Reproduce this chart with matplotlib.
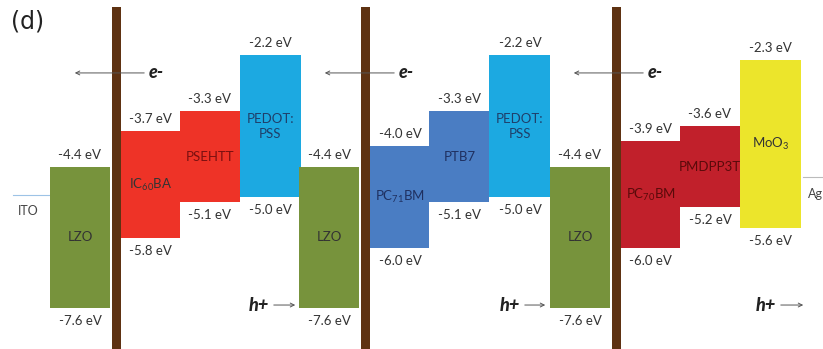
import numpy as np
import matplotlib
matplotlib.use("Agg")
import matplotlib.pyplot as plt

plt.rcParams['font.family'] = ['Lato', 'DejaVu Sans']
plt.rcParams['mathtext.fontset'] = 'custom'
plt.rcParams['mathtext.rm'] = 'Lato'
plt.rcParams['mathtext.it'] = 'Lato:italic'
plt.rcParams['mathtext.bf'] = 'Lato:bold'

# ---- data ----
materials = ["LZO", "IC$_{60}$BA", "PSEHTT", "PEDOT:\nPSS",
             "LZO", "PC$_{71}$BM", "PTB7", "PEDOT:\nPSS",
             "LZO", "PC$_{70}$BM", "PMDPP3T", "MoO$_3$"]
lumo = [-4.4, -3.7, -3.3, -2.2,
        -4.4, -4.0, -3.3, -2.2,
        -4.4, -3.9, -3.6, -2.3]
homo = [-7.6, -5.8, -5.1, -5.0,
        -7.6, -6.0, -5.1, -5.0,
        -7.6, -6.0, -5.2, -5.6]
ito_level = -4.95
ag_level = -4.6

# ---- style ----
colors = ['#77933C', '#EE3327', '#EE3327', '#1CA9E1',
          '#77933C', '#4A7DC3', '#4A7DC3', '#1CA9E1',
          '#77933C', '#C1202B', '#C1202B', '#ECE52B']
text_colors = ['#333333', '#333333', '#7A1010', '#1F3F6A',
               '#333333', '#1F3060', '#1F3060', '#1F3F6A',
               '#333333', '#5A0A0A', '#5A0A0A', '#333333']
panel_x0 = [50, 299.5, 550]
block_offsets = [0, 71, 130, 190]
block_widths = [60, 59, 60, 61]
bar_offset, bar_width = 62, 9
brown = '#5E3212'


def fwd(e):
    e = np.asarray(e, dtype=float)
    return np.where(e >= -6, e, -6 + (e + 6) * 0.738)


def inv(f):
    f = np.asarray(f, dtype=float)
    return np.where(f >= -6, f, -6 + (f + 6) / 0.738)


fig = plt.figure(figsize=(8.23, 3.49), dpi=100)
ax = fig.add_axes([0, 0, 1, 1])
ax.set_yscale('function', functions=(fwd, inv))
ax.set_xlim(0, 823)
ax.set_ylim(-8.692, -1.117)
ax.axis('off')

xs, ws = [], []
for p in range(3):
    for b in range(4):
        xs.append(panel_x0[p] + block_offsets[b])
        ws.append(block_widths[b])

heights = [l - h for l, h in zip(lumo, homo)]
ax.bar(xs, heights, width=ws, bottom=homo, align='edge', color=colors,
       edgecolor='none', zorder=2)

for i in range(len(materials)):
    cx = xs[i] + ws[i] / 2
    mid = inv((fwd(lumo[i]) + fwd(homo[i])) / 2)
    ax.text(cx, float(mid), materials[i], ha='center', va='center',
            fontsize=9.5, color=text_colors[i], zorder=4, linespacing=1.3)
    ax.annotate(f"{lumo[i]:.1f} eV", (cx, lumo[i]), xytext=(0, 12),
                textcoords='offset pixels', ha='center', va='center',
                fontsize=9.5, color='#333333')
    ax.annotate(f"{homo[i]:.1f} eV", (cx, homo[i]), xytext=(0, -13),
                textcoords='offset pixels', ha='center', va='center',
                fontsize=9.5, color='#333333')

# brown separators
for p in range(3):
    ax.axvspan(panel_x0[p] + bar_offset, panel_x0[p] + bar_offset + bar_width,
               ymin=0, ymax=0.98, color=brown, zorder=3, lw=0)

# electrode levels
ax.plot([13, 50], [ito_level, ito_level], color='#9DC3E6', lw=0.8, zorder=1)
ax.text(28, ito_level - 0.2, "ITO", ha='center', va='top', fontsize=9,
        color='#444444')
ax.plot([803, 823], [ag_level, ag_level], color='#BBBBBB', lw=0.8, zorder=1)
ax.text(808, ag_level - 0.33, "Ag", ha='left', va='center', fontsize=9,
        color='#444444')

# electron / hole arrows
tr = ax.get_xaxis_transform()
e_text_x = [156, 406, 655]
e_arrow_end = [72, 322, 571]
h_text_x = [259, 510, 766]
h_arrow_end = [298, 548, 806]
for p in range(3):
    ax.annotate("", xy=(e_arrow_end[p], 0.791), xycoords=tr,
                xytext=(e_text_x[p] - 9, 0.791), textcoords=tr,
                arrowprops=dict(arrowstyle='->', color='#555555', lw=0.7,
                                mutation_scale=7), zorder=5)
    ax.text(e_text_x[p], 0.791, "e-", transform=tr, ha='center', va='center',
            fontsize=13, fontweight='black', fontstyle='italic', color='#222222',
            zorder=6)
    ax.annotate("", xy=(h_arrow_end[p], 0.126), xycoords=tr,
                xytext=(h_text_x[p] + 12, 0.126), textcoords=tr,
                arrowprops=dict(arrowstyle='->', color='#555555', lw=0.7,
                                mutation_scale=7), zorder=5)
    ax.text(h_text_x[p], 0.126, "h+", transform=tr, ha='center', va='center',
            fontsize=13, fontweight='black', fontstyle='italic', color='#222222')

fig.text(0.013, 0.937, "(d)", fontsize=17, color='#222222',
         family=['DejaVu Sans'], ha='left', va='center')

fig.savefig("out.png", dpi=100)
